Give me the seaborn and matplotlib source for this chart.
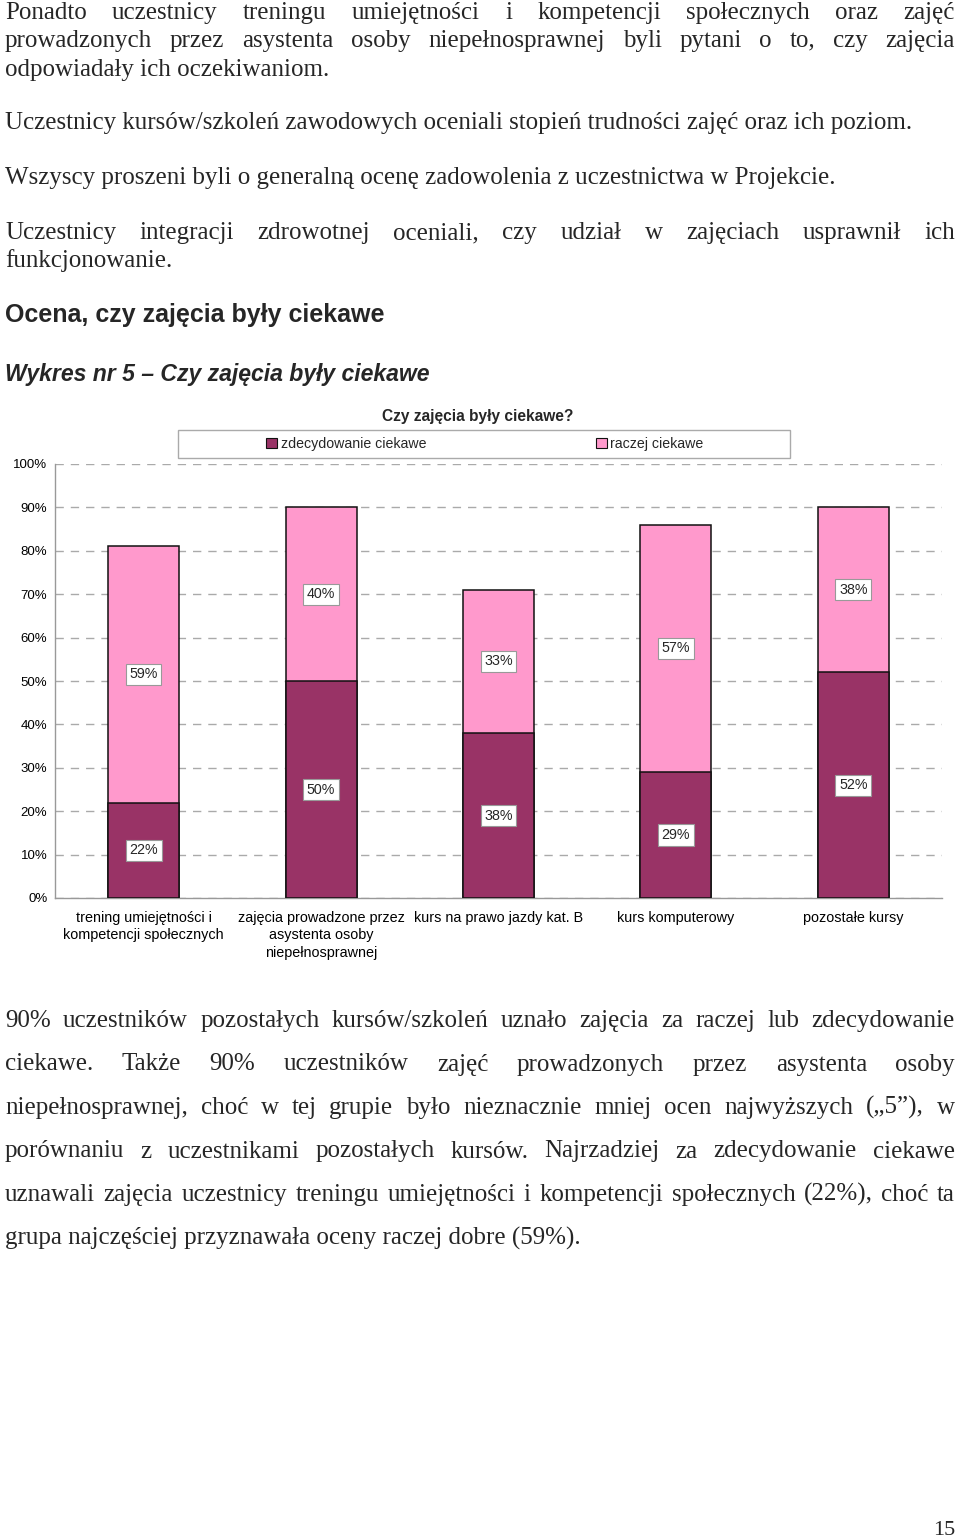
import numpy as np
import pandas as pd
import matplotlib
matplotlib.use("Agg")
import matplotlib.pyplot as plt
import seaborn as sns
from matplotlib.patches import Rectangle, Patch

# ---------------- data ----------------
categories = [
    "trening umiejętności i\nkompetencji społecznych",
    "zajęcia prowadzone przez\nasystenta osoby\nniepełnosprawnej",
    "kurs na prawo jazdy kat. B",
    "kurs komputerowy",
    "pozostałe kursy",
]
zdecydowanie = [22, 50, 38, 29, 52]
raczej = [59, 40, 33, 57, 38]
series_names = ["zdecydowanie ciekawe", "raczej ciekawe"]
yticks = [0, 10, 20, 30, 40, 50, 60, 70, 80, 90, 100]
chart_title = "Czy zajęcia były ciekawe?"

para_top = [
    ("Ponadto uczestnicy treningu umiejętności i kompetencji społecznych oraz zajęć", True),
    ("prowadzonych przez asystenta osoby niepełnosprawnej byli pytani o to, czy zajęcia", True),
    ("odpowiadały ich oczekiwaniom.", False),
    ("Uczestnicy kursów/szkoleń zawodowych oceniali stopień trudności zajęć oraz ich poziom.", False),
    ("Wszyscy proszeni byli o generalną ocenę zadowolenia z uczestnictwa w Projekcie.", False),
    ("Uczestnicy integracji zdrowotnej oceniali, czy udział w zajęciach usprawnił ich", True),
    ("funkcjonowanie.", False),
]
heading = "Ocena, czy zajęcia były ciekawe"
caption = "Wykres nr 5 – Czy zajęcia były ciekawe"
para_bottom = [
    ("90% uczestników pozostałych kursów/szkoleń uznało zajęcia za raczej lub zdecydowanie", True),
    ("ciekawe. Także 90% uczestników zajęć prowadzonych przez asystenta osoby", True),
    ("niepełnosprawnej, choć w tej grupie było nieznacznie mniej ocen najwyższych („5”), w", True),
    ("porównaniu z uczestnikami pozostałych kursów. Najrzadziej za zdecydowanie ciekawe", True),
    ("uznawali zajęcia uczestnicy treningu umiejętności i kompetencji społecznych (22%), choć ta", True),
    ("grupa najczęściej przyznawała oceny raczej dobre (59%).", False),
]
page_number = "15"

# ---------------- style ----------------
sns.set_theme(style="white")
plt.rcParams["font.family"] = ["Liberation Sans", "DejaVu Sans"]

DARK = "#993366"
LIGHT = "#FF99CC"
W, H = 960, 1537
fig = plt.figure(figsize=(W / 100, H / 100), dpi=100)
fig.patch.set_facecolor("white")

# ---------------- chart ----------------
ax = fig.add_axes([55 / W, 1 - 898 / H, (942 - 55) / W, (898 - 464) / H])
df = pd.DataFrame({"kategoria": categories, "zd": zdecydowanie, "ra": raczej})
df["total"] = df["zd"] + df["ra"]

sns.barplot(data=df, x="kategoria", y="total", color=LIGHT, saturation=1,
            width=0.4, edgecolor="#111111", linewidth=1.1, ax=ax, zorder=2)
sns.barplot(data=df, x="kategoria", y="zd", color=DARK, saturation=1,
            width=0.4, edgecolor="#111111", linewidth=1.1, ax=ax, zorder=3)

ax.set_xlim(-0.5, len(categories) - 0.5)
ax.set_ylim(0, 100)
ax.set_xlabel("")
ax.set_ylabel("")
ax.set_yticks(yticks)
ax.set_yticklabels([f"{v}%" for v in yticks], fontsize=9.5)
ax.set_xticks(range(len(categories)))
ax.set_xticklabels(categories, fontsize=10.4, linespacing=1.3)
ax.set_xticks(np.arange(-0.5, len(categories)), minor=True)
ax.tick_params(axis="x", which="major", length=0, pad=9.5, colors="black")
ax.tick_params(axis="x", which="minor", length=5, width=1, color="#999999", direction="out")
ax.tick_params(axis="y", length=4, width=1, color="#999999", direction="out", pad=1.5, labelcolor="black")
ax.yaxis.grid(True, linestyle=(0, (6, 5)), color="#aaaaaa", linewidth=1)
ax.xaxis.grid(False)
ax.set_axisbelow(True)
for s in ["top", "right"]:
    ax.spines[s].set_visible(False)
for s in ["left", "bottom"]:
    ax.spines[s].set_color("#999999")
    ax.spines[s].set_linewidth(1)

box = dict(boxstyle="square,pad=0.25", fc="white", ec="#999999", lw=0.8)
for i in range(len(categories)):
    ax.text(i, zdecydowanie[i] / 2, f"{zdecydowanie[i]}%", ha="center", va="center",
            fontsize=10.3, bbox=box, zorder=5)
    ax.text(i, zdecydowanie[i] + raczej[i] / 2, f"{raczej[i]}%", ha="center", va="center",
            fontsize=10.3, bbox=box, zorder=5)

# legend
fig.patches.append(Rectangle((178 / W, 1 - 458 / H), (790 - 178) / W, 28 / H,
                             transform=fig.transFigure, facecolor="white",
                             edgecolor="#aaaaaa", linewidth=1, zorder=1))
handles = [Patch(facecolor=DARK, edgecolor="#111111", linewidth=0.8),
           Patch(facecolor=LIGHT, edgecolor="#111111", linewidth=0.8)]
leg = fig.legend(handles, series_names, loc="center", bbox_to_anchor=(485 / W, 1 - 444 / H),
                 ncol=2, frameon=False, fontsize=10.2, handlelength=0.75, handleheight=0.75,
                 handletextpad=0.25, columnspacing=12.0)
leg.set_zorder(3)
fig.text(478 / W, 1 - 416 / H, chart_title, ha="center", va="center",
         fontsize=11.2, fontweight="bold")

# ---------------- page text ----------------
renderer = fig.canvas.get_renderer()


def draw_line(text, yb, size, justify, x0=5, x1=955, **kw):
    y = 1 - yb / H
    if not justify:
        fig.text(x0 / W, y, text, fontsize=size, ha="left", va="baseline", **kw)
        return
    words = text.split(" ")
    objs = [fig.text(0, y, w, fontsize=size, ha="left", va="baseline", **kw) for w in words]
    widths = [o.get_window_extent(renderer).width for o in objs]
    gap = (x1 - x0 - sum(widths)) / (len(words) - 1)
    x = x0
    for o, w in zip(objs, widths):
        o.set_x(x / W)
        x += w + gap


serif = ["Liberation Serif", "DejaVu Serif"]
top_baselines = [19, 47, 76, 129, 184, 239, 267]
for (txt, j), yb in zip(para_top, top_baselines):
    draw_line(txt, yb, 18, j, family=serif)

draw_line(heading, 322, 18, False, family=["Liberation Sans", "DejaVu Sans"], fontweight="bold")
draw_line(caption, 381, 16.6, False, family=["Liberation Sans", "DejaVu Sans"],
          fontweight="bold", fontstyle="italic")

bottom_baselines = [1027, 1070.5, 1114, 1157.5, 1201, 1244.5]
for (txt, j), yb in zip(para_bottom, bottom_baselines):
    draw_line(txt, yb, 18, j, family=serif)

fig.text(955 / W, 1 - 1535 / H, page_number, ha="right", va="baseline", fontsize=16, family=serif)

fig.savefig("out.png", dpi=100, facecolor="white")
